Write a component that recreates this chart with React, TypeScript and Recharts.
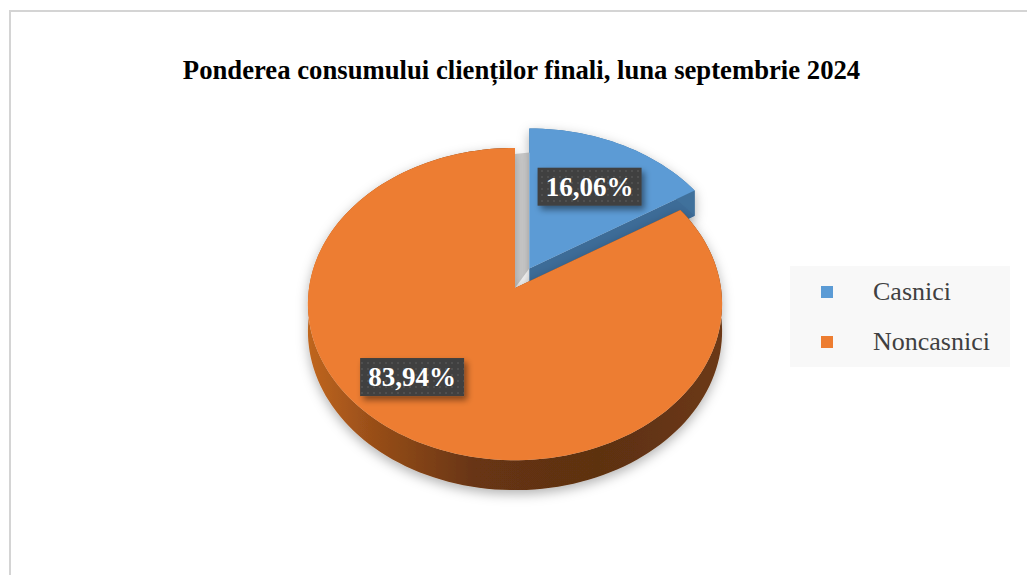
import { PieChart, Pie, Cell, Legend } from 'recharts'

const CATEGORIES = ['Casnici', 'Noncasnici']
const SHARES = [16.06, 83.94]
const COLORS = ['#5b9bd5', '#ed7d31']
const SIDE_COLORS = ['#41719c', 'url(#orangeWall)']

const EXPLODED = 0
const EXPLODE_DIST = 30
// perspective tilt: K = vertical squash, P = far-side shrink
const K = 0.75
const P = 0.1026
const DEPTH = 26.9
const LABEL_SHIFT = [0, -12]
const LABEL_R = [0.64, 0.72]
const SERIF = '"Liberation Serif", "Times New Roman", serif'

const data = CATEGORIES.map((name, i) => ({ name, value: SHARES[i] }))

function project(cx: number, cy: number, R: number, deg: number, f = 1) {
  const a = (deg * Math.PI) / 180
  const u = Math.cos(a)
  const v = Math.sin(a)
  const s = 1 + P * f * v
  return [cx + (f * R * u) / s, cy - (f * R * K * v) / s, DEPTH / s]
}

function sample(cx: number, cy: number, R: number, a0: number, a1: number) {
  const n = Math.max(2, Math.ceil(Math.abs(a1 - a0) / 2))
  const pts: number[][] = []
  for (let i = 0; i <= n; i++) pts.push(project(cx, cy, R, a0 + ((a1 - a0) * i) / n))
  return pts
}

const idxOf = (props: any) => CATEGORIES.indexOf(props.name ?? props.payload?.name)

const sectorShape = (props: any) => {
  const { cx, cy, outerRadius: R, startAngle, endAngle, midAngle } = props
  const idx = idxOf(props)
  const [tx, ty] = idx === EXPLODED ? project(cx, cy, R, midAngle, EXPLODE_DIST / R) : [cx, cy]
  const arc = sample(tx, ty, R, startAngle, endAngle)
  const top = `M${tx},${ty} ` + arc.map(p => `L${p[0]},${p[1]}`).join(' ') + ' Z'
  const wall =
    'M' + arc.map(p => `${p[0]},${p[1]}`).join(' L') +
    ' L' + arc.slice().reverse().map(p => `${p[0]},${p[1] + p[2]}`).join(' L') + ' Z'
  const faces = [startAngle, endAngle].map(a => {
    const p = project(tx, ty, R, a)
    return `M${tx},${ty} L${p[0]},${p[1]} L${p[0]},${p[1] + p[2]} L${tx},${ty + DEPTH} Z`
  })
  let gap = null
  if (idx === EXPLODED) {
    const p0 = project(cx, cy, R, startAngle)
    const p1 = project(tx, ty, R, startAngle)
    gap = <path d={`M${cx},${cy} L${p0[0]},${p0[1] + 6} L${p1[0]},${p1[1] + 24} L${tx},${ty} Z`} fill="#cfcfcf" />
  }
  return (
    <g>
      <defs>
        <filter id={`sh${idx}`} x="-20%" y="-20%" width="140%" height="150%">
          <feDropShadow dx="0" dy="4" stdDeviation="6" floodColor="#000" floodOpacity="0.3" />
        </filter>
        <linearGradient id="orangeWall" x1="0" y1="0" x2="1" y2="0">
          <stop offset="0" stopColor="#c0661f" />
          <stop offset="0.15" stopColor="#9a4f19" />
          <stop offset="0.4" stopColor="#683512" />
          <stop offset="0.7" stopColor="#5d3011" />
          <stop offset="1" stopColor="#6c3914" />
        </linearGradient>
      </defs>
      {gap}
      <g filter={`url(#sh${idx})`}>
        {faces.map((d, i) => <path key={i} d={d} fill={idx === EXPLODED ? '#3e6c98' : '#8a4718'} />)}
        <path d={wall} fill={SIDE_COLORS[idx]} />
        <path d={top} fill={COLORS[idx]} />
      </g>
    </g>
  )
}

const renderLabel = (props: any) => {
  const { cx, cy, outerRadius: R, midAngle } = props
  const idx = idxOf(props)
  const [tx, ty] = idx === EXPLODED ? project(cx, cy, R, midAngle, EXPLODE_DIST / R) : [cx, cy]
  const [x, y] = project(tx, ty, R, midAngle + LABEL_SHIFT[idx], LABEL_R[idx])
  const text = SHARES[idx].toFixed(2).replace('.', ',') + '%'
  return (
    <g key={idx}>
      <defs>
        <pattern id="dots" width="6" height="6" patternUnits="userSpaceOnUse">
          <rect width="6" height="6" fill="#3f3f3f" />
          <circle cx="3" cy="3" r="0.9" fill="#575757" />
        </pattern>
        <filter id="lblShadow" x="-20%" y="-30%" width="150%" height="180%">
          <feDropShadow dx="3" dy="4" stdDeviation="3" floodColor="#000" floodOpacity="0.45" />
        </filter>
      </defs>
      <rect x={x - 52} y={y - 19} width={104} height={38} fill="url(#dots)" filter="url(#lblShadow)" />
      <text x={x} y={y + 9} textAnchor="middle" fill="#fff" fontFamily={SERIF} fontWeight="bold" fontSize={27}>
        {text}
      </text>
    </g>
  )
}

const renderLegend = (props: any) => (
  <div style={{ width: 220, height: 101, background: '#f8f8f8', position: 'relative', fontFamily: SERIF }}>
    {(props.payload || []).map((e: any, i: number) => (
      <div key={i}>
        <div style={{ position: 'absolute', left: 31, top: 20 + i * 50, width: 12, height: 12, background: COLORS[i] }} />
        <div style={{ position: 'absolute', left: 83, top: 11 + i * 50, fontSize: 26, lineHeight: '30px', color: '#404040' }}>
          {e.value}
        </div>
      </div>
    ))}
  </div>
)

export default function App() {
  return (
    <div
      style={{
        position: 'fixed', left: 9, top: 10, width: 1030, height: 580, background: '#fff',
        borderTop: '2px solid #d4d4d4', borderLeft: '2px solid #d4d4d4',
      }}
    >
      <div
        style={{
          position: 'absolute', left: 0, top: 43, width: 1021, textAlign: 'center',
          fontFamily: SERIF, fontWeight: 'bold', fontSize: 26.7, lineHeight: '30px', color: '#000',
        }}
      >
        Ponderea consumului clienților finali, luna septembrie 2024
      </div>
      <div style={{ position: 'absolute', left: 0, top: 0 }}>
        <PieChart width={1016} height={563} margin={{ top: 0, right: 0, bottom: 0, left: 0 }}>
          <Pie
            data={data}
            dataKey="value"
            nameKey="name"
            cx={504}
            cy={276}
            outerRadius={206}
            startAngle={90}
            endAngle={-270}
            stroke="none"
            isAnimationActive={false}
            labelLine={false}
            label={renderLabel}
            shape={sectorShape}
            activeShape={sectorShape}
            inactiveShape={sectorShape}
          >
            {CATEGORIES.map((c, i) => <Cell key={c} fill={COLORS[i]} />)}
          </Pie>
          <Legend
            layout="vertical"
            align="right"
            verticalAlign="top"
            content={renderLegend}
            wrapperStyle={{ left: 779, top: 254, width: 220, height: 101 }}
          />
        </PieChart>
      </div>
    </div>
  )
}
